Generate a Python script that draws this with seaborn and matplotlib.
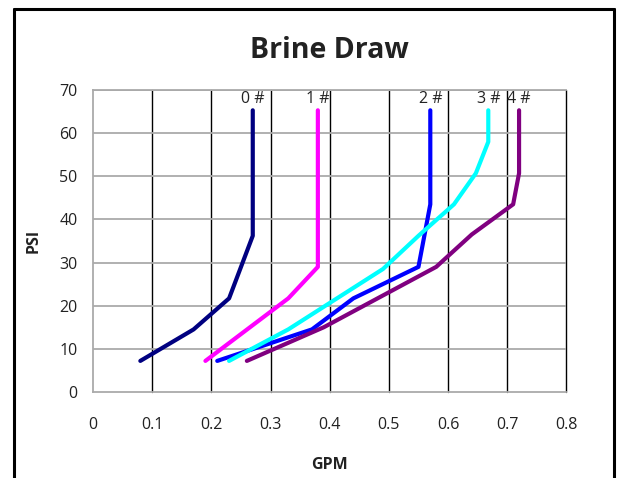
import numpy as np
import pandas as pd
import matplotlib
matplotlib.use("Agg")
import matplotlib.pyplot as plt
from matplotlib.lines import Line2D
import seaborn as sns

# ---- data ----
labels = ["0 #", "1 #", "2 #", "3 #", "4 #"]
gpm_0 = [0.08, 0.17, 0.23, 0.27, 0.27]
psi_0 = [7.2, 14.5, 21.7, 36.2, 65.3]
gpm_1 = [0.19, 0.33, 0.38, 0.38]
psi_1 = [7.2, 21.7, 29.0, 65.3]
gpm_2 = [0.21, 0.37, 0.44, 0.55, 0.57, 0.57]
psi_2 = [7.2, 14.5, 21.7, 29.0, 43.5, 65.3]
gpm_3 = [0.23, 0.33, 0.49, 0.55, 0.61, 0.647, 0.668, 0.668]
psi_3 = [7.2, 14.5, 28.5, 36.2, 43.5, 50.7, 58.0, 65.3]
gpm_4 = [0.26, 0.39, 0.58, 0.64, 0.71, 0.72, 0.72]
psi_4 = [7.2, 15.0, 29.0, 36.5, 43.5, 50.7, 65.3]
colors = ["#000080", "#FF00FF", "#0000FF", "#00FFFF", "#800080"]
x_ticks = [0, 0.1, 0.2, 0.3, 0.4, 0.5, 0.6, 0.7, 0.8]
x_tick_labels = ["0", "0.1", "0.2", "0.3", "0.4", "0.5", "0.6", "0.7", "0.8"]
y_ticks = [0, 10, 20, 30, 40, 50, 60, 70]

series = [(gpm_0, psi_0), (gpm_1, psi_1), (gpm_2, psi_2), (gpm_3, psi_3), (gpm_4, psi_4)]

sns.set_theme(style="white")
plt.rcParams["font.family"] = ["Open Sans", "DejaVu Sans"]

fig = plt.figure(figsize=(6.17, 4.78), dpi=100)
ax = fig.add_axes([0.1507, 0.18, 0.7673, 0.6317])

for (gx, py), c, lab in zip(series, colors, labels):
    df = pd.DataFrame({"GPM": gx, "PSI": py})
    sns.lineplot(data=df, x="GPM", y="PSI", sort=False, estimator=None,
                 color=c, linewidth=3.0, ax=ax, solid_capstyle="round",
                 solid_joinstyle="round", zorder=3)
    ax.text(gx[-1], 67.9, lab, ha="center", va="center", fontsize=11.5,
            color="#222222", zorder=4)

ax.set_xlim(0, 0.8)
ax.set_ylim(0, 70)
ax.set_xticks(x_ticks)
ax.set_xticklabels(x_tick_labels)
ax.set_yticks(y_ticks)

# grid
for xv in x_ticks[1:]:
    ax.axvline(xv, color="black", linewidth=1.0, zorder=1, clip_on=False)
for yv in y_ticks[1:]:
    ax.axhline(yv, color="#aaaaaa", linewidth=1.3, zorder=1)

for s in ["left", "bottom", "top"]:
    ax.spines[s].set_color("#aaaaaa")
    ax.spines[s].set_linewidth(1.3)
    ax.spines[s].set_visible(True)
ax.spines["right"].set_visible(False)

ax.tick_params(axis="both", length=0, labelsize=11.5, labelcolor="#222222")
ax.tick_params(axis="x", pad=18)
ax.tick_params(axis="y", pad=11)

ax.set_xlabel("GPM", fontsize=11.5, fontweight="bold", color="#222222", labelpad=17)
ax.set_ylabel("PSI", fontsize=11.5, fontweight="bold", color="#222222", labelpad=13)
ax.set_title("Brine Draw", fontsize=20.5, fontweight="bold", color="#222222", pad=23)

# outer frame
lw = 2.2
fig.add_artist(Line2D([13.5 / 617, 13.5 / 617], [0, 1 - 9 / 478], color="black", linewidth=lw, transform=fig.transFigure))
fig.add_artist(Line2D([13.5 / 617, 614 / 617], [1 - 9 / 478, 1 - 9 / 478], color="black", linewidth=lw, transform=fig.transFigure))
fig.add_artist(Line2D([614 / 617, 614 / 617], [0, 1 - 9 / 478], color="black", linewidth=lw, transform=fig.transFigure))

fig.savefig("out.png", dpi=100)
